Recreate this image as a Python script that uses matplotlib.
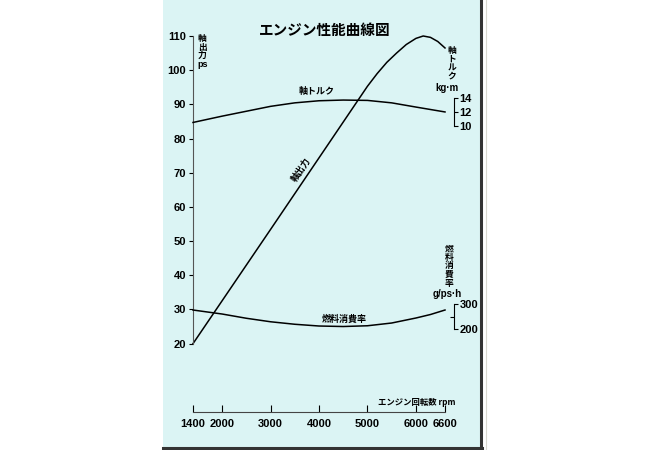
import matplotlib
matplotlib.use('Agg')
import matplotlib.pyplot as plt
from matplotlib.patches import Rectangle
from matplotlib.lines import Line2D

plt.rcParams['font.family'] = ['Liberation Sans', 'Noto Sans CJK JP']
JP = ['Noto Sans CJK JP', 'Liberation Sans']

# engine speed ticks
rpm_ticks = [1400, 2000, 3000, 4000, 5000, 6000, 6600]
ps_ticks = [20, 30, 40, 50, 60, 70, 80, 90, 100, 110]

# shaft power (ps)
power_rpm = [1400, 3000, 5000, 5200, 5400, 5600, 5800, 6000, 6150, 6300, 6450, 6600]
power_ps = [20, 53.4, 95.3, 99.0, 102.3, 105.0, 107.5, 109.3, 110, 109.6, 108.4, 106.5]

# shaft torque (kg-m)
torque_rpm = [1400, 2000, 2500, 3000, 3500, 4000, 4500, 5000, 5500, 6000, 6300, 6600]
torque_kgm = [10.5, 11.4, 12.1, 12.8, 13.3, 13.6, 13.7, 13.65, 13.3, 12.7, 12.35, 12.0]

# fuel consumption (g/ps-h)
fuel_rpm = [1400, 2000, 2500, 3000, 3500, 4000, 4500, 5000, 5500, 6000, 6300, 6600]
fuel_g = [276, 260, 243, 229, 219, 212, 210, 213, 224, 244, 258, 276]

fig = plt.figure(figsize=(6.5, 4.5), dpi=100)
fig.patch.set_facecolor('white')

# card background
fig.patches.append(Rectangle((163 / 650, 2 / 450), (481 - 163) / 650, 448 / 450,
                             transform=fig.transFigure, facecolor='#dbf4f4',
                             edgecolor='none', zorder=-10))
fig.lines.append(Line2D([481 / 650, 481 / 650], [2 / 450, 1], transform=fig.transFigure,
                        color='#333333', lw=2.2, zorder=-5))
fig.lines.append(Line2D([163 / 650, 482 / 650], [2 / 450, 2 / 450], transform=fig.transFigure,
                        color='#333333', lw=2.2, zorder=-5))
fig.lines.append(Line2D([486 / 650, 486 / 650], [0, 1], transform=fig.transFigure,
                        color='#d8d8d0', lw=0.8, zorder=-5))

ax = fig.add_axes([193 / 650, 38 / 450, 252 / 650, 376 / 450])
ax.patch.set_alpha(0)
ax.set_xlim(1400, 6600)
ax.set_ylim(0, 110)

for s in ['top', 'right']:
    ax.spines[s].set_visible(False)
ax.spines['left'].set_bounds(20, 110)
ax.spines['left'].set_color('#555555')
ax.spines['bottom'].set_color('#444444')
ax.spines['left'].set_linewidth(0.8)
ax.spines['bottom'].set_linewidth(0.8)

ax.set_xticks(rpm_ticks)
ax.set_xticklabels([str(v) for v in rpm_ticks])
ax.set_yticks(ps_ticks)
ax.tick_params(axis='x', direction='in', length=5, width=0.8, pad=5, labelsize=8)
ax.tick_params(axis='y', direction='out', length=3, width=0.8, pad=2, labelsize=8)
for lab in ax.get_xticklabels() + ax.get_yticklabels():
    lab.set_fontweight('bold')

ax.plot(power_rpm, power_ps, color='black', lw=1.1, clip_on=False)
ax.text(3640, 71, '軸出力', family=JP, fontsize=6.5, fontweight='bold',
        rotation=56, ha='center', va='center')

# torque scale
ax_t = ax.twinx()
ax_t.patch.set_alpha(0)
ax_t.set_ylim(-30.86, 22.85)
for s in ['top', 'left', 'bottom']:
    ax_t.spines[s].set_visible(False)
ax_t.spines['right'].set_position(('axes', 1.036))
ax_t.spines['right'].set_bounds(10, 14)
ax_t.spines['right'].set_linewidth(0.8)
ax_t.set_yticks([10, 12, 14])
ax_t.tick_params(axis='y', direction='out', length=3, width=0.8, pad=1, labelsize=8)
for lab in ax_t.get_yticklabels():
    lab.set_fontweight('bold')
ax_t.plot(torque_rpm, torque_kgm, color='black', lw=1.1, clip_on=False)
ax_t.text(3950, 14.3, '軸トルク', family=JP, fontsize=6.5, fontweight='bold',
          ha='center', va='bottom')

# fuel scale
ax_f = ax.twinx()
ax_f.patch.set_alpha(0)
ax_f.set_ylim(-131.9, 1371.9)
for s in ['top', 'left', 'bottom']:
    ax_f.spines[s].set_visible(False)
ax_f.spines['right'].set_position(('axes', 1.036))
ax_f.spines['right'].set_bounds(200, 300)
ax_f.spines['right'].set_linewidth(0.8)
ax_f.set_yticks([200, 300])
ax_f.set_yticks([250], minor=True)
ax_f.tick_params(axis='y', which='major', direction='out', length=3, width=0.8, pad=1, labelsize=8)
ax_f.tick_params(axis='y', which='minor', direction='in', length=3, width=0.8)
for lab in ax_f.get_yticklabels():
    lab.set_fontweight('bold')
ax_f.plot(fuel_rpm, fuel_g, color='black', lw=1.1, clip_on=False)
ax_f.text(4530, 220, '燃料消費率', family=JP, fontsize=6.5, fontweight='bold',
          ha='center', va='bottom')

# titles and unit labels
fig.text(325 / 650, 1 - 30 / 450, 'エンジン性能曲線図', family=JP, fontsize=10.5,
         fontweight='bold', ha='center', va='center')
fig.text(198 / 650, 1 - 34 / 450, '軸\n出\n力', family=JP, fontsize=6.3, fontweight='bold',
         ha='left', va='top', linespacing=0.95)
fig.text(197 / 650, 1 - 65 / 450, 'ps', fontsize=6.5, fontweight='bold', ha='left', va='center')
fig.text(452 / 650, 1 - 46 / 450, '軸\nト\nル\nク', family=JP, fontsize=6.3, fontweight='bold',
         ha='center', va='top', linespacing=0.95)
fig.text(447 / 650, 1 - 88 / 450, 'kg·m', fontsize=7, fontweight='bold', ha='center', va='center')
fig.text(449 / 650, 1 - 244 / 450, '燃\n料\n消\n費\n率', family=JP, fontsize=6.3,
         fontweight='bold', ha='center', va='top', linespacing=0.95)
fig.text(447 / 650, 1 - 294 / 450, 'g/ps·h', fontsize=7, fontweight='bold', ha='center', va='center')
fig.text(456 / 650, 1 - 402 / 450, 'エンジン回転数 rpm', family=JP, fontsize=6.0,
         fontweight='bold', ha='right', va='center')

fig.savefig('out.png', dpi=100)
